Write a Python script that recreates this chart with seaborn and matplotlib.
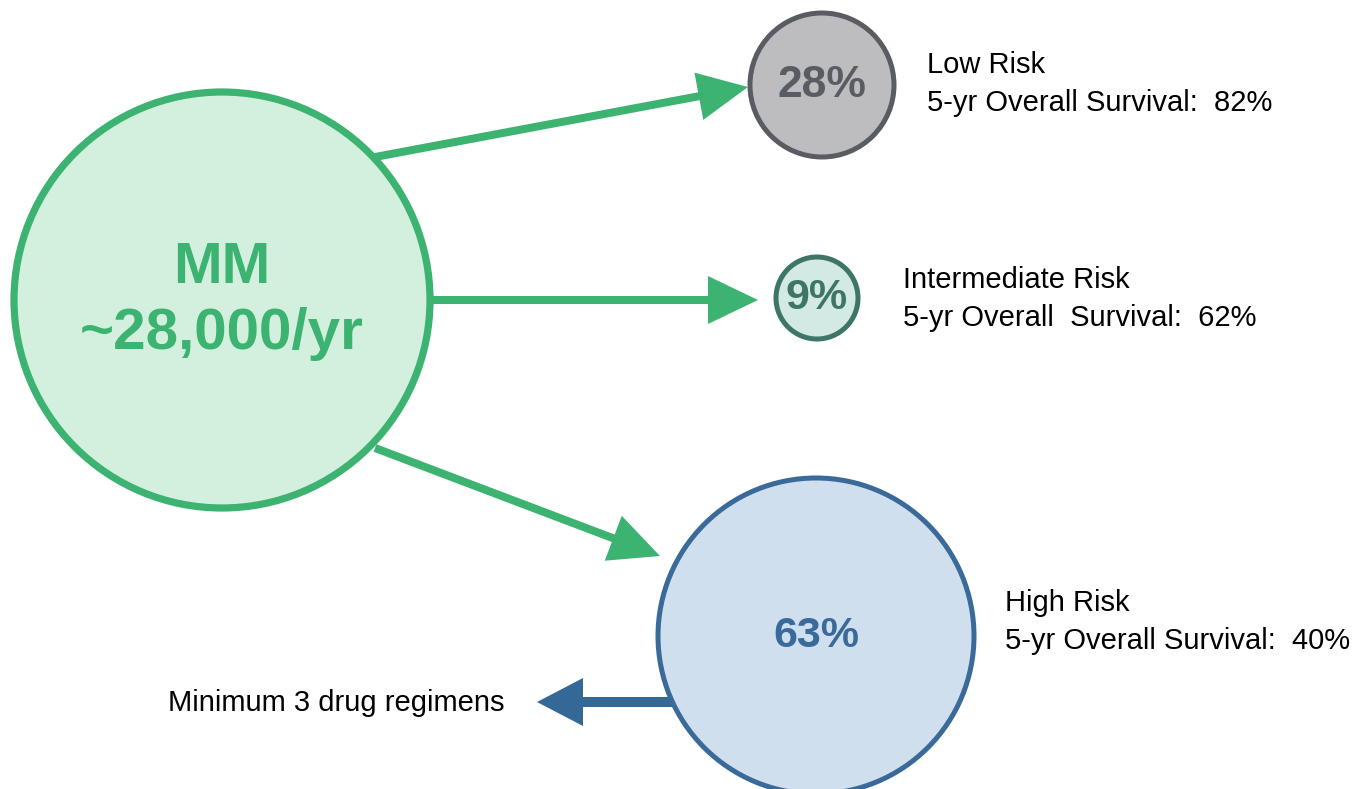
import matplotlib
matplotlib.use("Agg")
import matplotlib.pyplot as plt
from matplotlib.patches import Circle
import seaborn as sns

# ============================
# DATA
# ============================
node_names = ["MM", "Low", "Intermediate", "High"]
node_labels = ["MM\n~28,000/yr", "28%", "9%", "63%"]
node_x = [222, 822, 817, 816]
node_y = [300, 85, 298, 636]
node_r = [208, 72, 41, 158]
node_fill = ["#d3f0df", "#bdbdbf", "#d3e9e3", "#d0dfee"]
node_edge = ["#3cb371", "#595c63", "#3d7566", "#3a6a9a"]
node_fontsize = [42, 32, 31, 31]

risk_titles = ["Low Risk", "Intermediate Risk", "High Risk"]
risk_survival = ["5-yr Overall Survival:  82%", "5-yr Overall  Survival:  62%",
                 "5-yr Overall Survival:  40%"]
risk_text_x = [927, 903, 1005]
risk_text_y = [65, 280, 603]

# arrows: start, end
arrow_start = [(375, 157), (433, 300), (375, 448)]
arrow_end = [(748, 87), (758, 300), (660, 556)]

note_text = "Minimum 3 drug regimens"

# ============================
# FIGURE
# ============================
sns.set_theme(style="white")
plt.rcParams['font.family'] = ['Liberation Sans', 'DejaVu Sans']

fig = plt.figure(figsize=(13.7, 7.89), dpi=100)
ax = fig.add_axes([0, 0, 1, 1])
ax.set_xlim(0, 1370)
ax.set_ylim(789, 0)
ax.axis("off")

green = "#3cb371"

# arrows first (under circles)
for (x0, y0), (x1, y1) in zip(arrow_start, arrow_end):
    ax.arrow(x0, y0, x1 - x0, y1 - y0, width=8, head_width=48, head_length=50,
             length_includes_head=True, color=green, lw=0, zorder=1)

# blue arrow out of high risk
ax.arrow(676, 702, 537 - 676, 0, width=10, head_width=48, head_length=46,
         length_includes_head=True, color="#346896", lw=0, zorder=1)

for i in range(len(node_names)):
    c = Circle((node_x[i], node_y[i]), node_r[i], facecolor=node_fill[i],
               edgecolor=node_edge[i], lw=5.2 if i == 0 else 3.6, zorder=2)
    ax.add_patch(c)
    ax.text(node_x[i], node_y[i] + (1 if i == 0 else 0), node_labels[i],
            ha="center", va="center",
            fontsize=node_fontsize[i], fontweight="bold", color=node_edge[i],
            linespacing=1.3, zorder=3)

for t, s, x, y in zip(risk_titles, risk_survival, risk_text_x, risk_text_y):
    ax.text(x, y, t, ha="left", va="center", fontsize=21, color="black")
    ax.text(x, y + 38, s, ha="left", va="center", fontsize=21, color="black")

ax.text(505, 703, note_text, ha="right", va="center", fontsize=21, color="black")

fig.savefig("out.png", dpi=100, facecolor="white")
